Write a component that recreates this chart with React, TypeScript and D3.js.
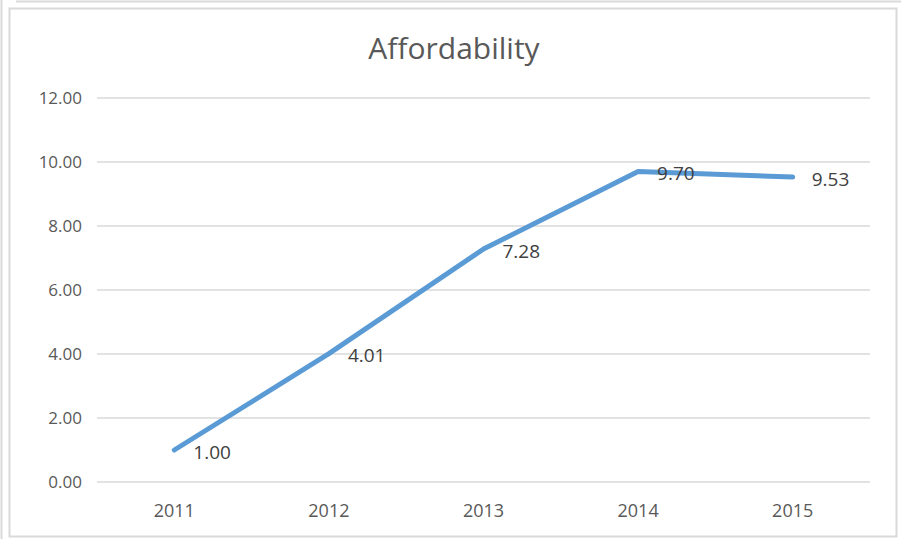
import React from "react";
import * as d3 from "d3";

const years = ["2011", "2012", "2013", "2014", "2015"];
const affordability = [1.0, 4.01, 7.28, 9.7, 9.53];
const yTicks = [0, 2, 4, 6, 8, 10, 12];
const chartTitle = "Affordability";

const W = 901;
const H = 539;
const plot = { left: 97, right: 870, top: 98, bottom: 482 };
const font = "'Open Sans', 'Segoe UI', 'DejaVu Sans', sans-serif";

export default function App() {
  const x = d3.scaleBand<string>().domain(years).range([plot.left, plot.right]);
  const y = d3.scaleLinear().domain([0, 12]).range([plot.bottom, plot.top]);
  const cx = (d: string) => (x(d) as number) + x.bandwidth() / 2;
  const pts = years.map((yr, i) => ({ yr, v: affordability[i] }));
  const line = d3
    .line<{ yr: string; v: number }>()
    .x((d) => cx(d.yr))
    .y((d) => y(d.v));

  return (
    <svg
      width={W}
      height={H}
      style={{ position: "absolute", left: 0, top: 0, background: "#fff" }}
      fontFamily={font}
    >
      <line x1={1.5} x2={1.5} y1={0} y2={H} stroke="#D9D9D9" strokeWidth={2} />
      <line x1={16} x2={W} y1={1.5} y2={1.5} stroke="#D9D9D9" strokeWidth={2} />
      <rect x={9.5} y={8.5} width={887} height={528} fill="#fff" stroke="#D9D9D9" strokeWidth={2} />
      <text x={454} y={59} textAnchor="middle" fontSize={30} fill="#595959">
        {chartTitle}
      </text>
      {yTicks.map((t) => (
        <g key={t}>
          <line x1={plot.left} x2={plot.right} y1={y(t)} y2={y(t)} stroke="#D9D9D9" strokeWidth={1.5} />
          <text x={82} y={y(t)} dy="0.35em" textAnchor="end" fontSize={17} fill="#595959">
            {t.toFixed(2)}
          </text>
        </g>
      ))}
      {years.map((yr) => (
        <text key={yr} x={cx(yr)} y={511} dy="0.35em" textAnchor="middle" fontSize={18} fill="#595959">
          {yr}
        </text>
      ))}
      <path
        d={line(pts) || ""}
        fill="none"
        stroke="#5B9BD5"
        strokeWidth={5}
        strokeLinecap="round"
        strokeLinejoin="round"
      />
      {pts.map((p) => (
        <text
          key={p.yr}
          x={cx(p.yr) + 19}
          y={y(p.v) + 2}
          dy="0.35em"
          fontSize={19}
          fill="#404040"
        >
          {p.v.toFixed(2)}
        </text>
      ))}
    </svg>
  );
}
